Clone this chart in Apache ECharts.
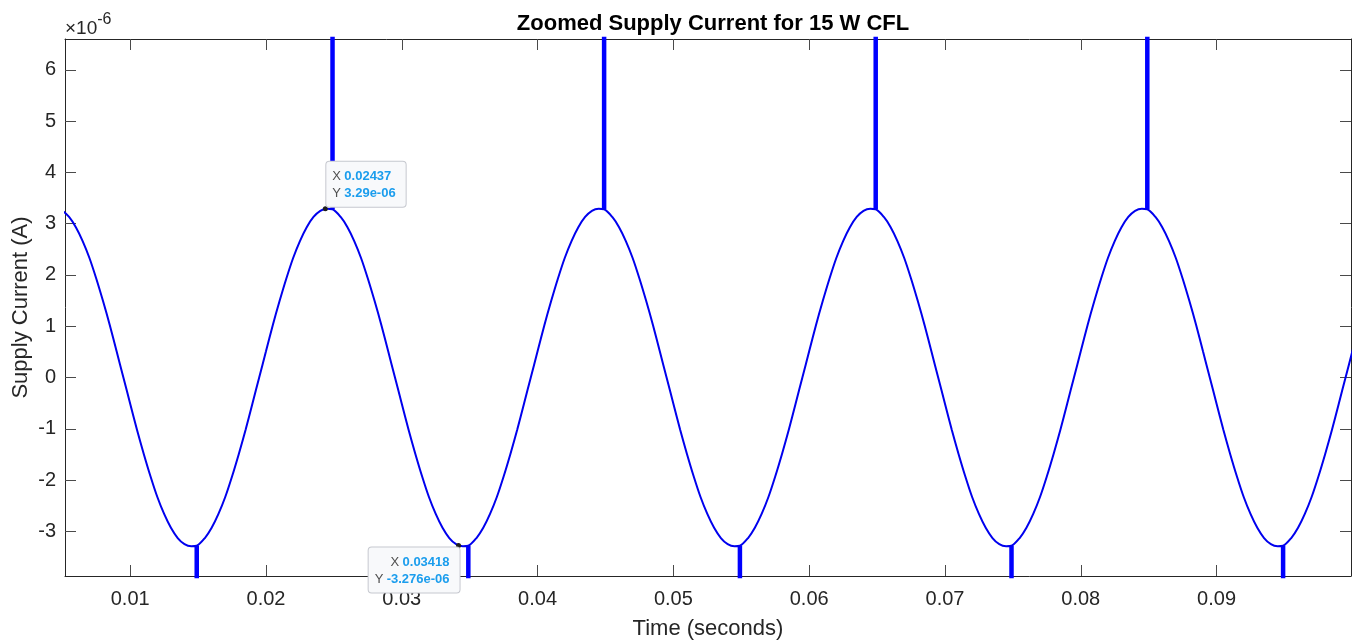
<!DOCTYPE html>
<html>
<head>
<meta charset="utf-8">
<title>Zoomed Supply Current for 15 W CFL</title>
<script src="https://cdn.jsdelivr.net/npm/echarts@6/dist/echarts.min.js"></script>
<style>
  html, body { margin: 0; padding: 0; background: #ffffff; }
  #chart { width: 1357px; height: 641px; }
</style>
</head>
<body>
<div id="chart"></div>
<script>
// Supply current samples: time in seconds, current in units of 1e-6 A.
// One row per half cycle (peak to trough or trough to peak).
const timeS = [
  0.0045, 0.0050, 0.0055, 0.0060, 0.0065, 0.0070, 0.0075, 0.0080, 0.0085, 0.0090, 0.0095, 0.0100, 0.0105, 0.0110, 0.0115, 0.0120, 0.0125, 0.0130, 0.0135, 0.0140,
  0.0145, 0.0149, 0.0155, 0.0160, 0.0165, 0.0170, 0.0175, 0.0180, 0.0185, 0.0190, 0.0195, 0.0200, 0.0205, 0.0210, 0.0215, 0.0220, 0.0225, 0.0230, 0.0235, 0.0240,
  0.0245, 0.0249, 0.0255, 0.0260, 0.0265, 0.0270, 0.0275, 0.0280, 0.0285, 0.0290, 0.0295, 0.0300, 0.0305, 0.0310, 0.0315, 0.0320, 0.0325, 0.0330, 0.0335, 0.0340,
  0.0345, 0.0349, 0.0355, 0.0360, 0.0365, 0.0370, 0.0375, 0.0380, 0.0385, 0.0390, 0.0395, 0.0400, 0.0405, 0.0410, 0.0415, 0.0420, 0.0425, 0.0430, 0.0435, 0.0440,
  0.0445, 0.0449, 0.0455, 0.0460, 0.0465, 0.0470, 0.0475, 0.0480, 0.0485, 0.0490, 0.0495, 0.0500, 0.0505, 0.0510, 0.0515, 0.0520, 0.0525, 0.0530, 0.0535, 0.0540,
  0.0545, 0.0549, 0.0555, 0.0560, 0.0565, 0.0570, 0.0575, 0.0580, 0.0585, 0.0590, 0.0595, 0.0600, 0.0605, 0.0610, 0.0615, 0.0620, 0.0625, 0.0630, 0.0635, 0.0640,
  0.0645, 0.0649, 0.0655, 0.0660, 0.0665, 0.0670, 0.0675, 0.0680, 0.0685, 0.0690, 0.0695, 0.0700, 0.0705, 0.0710, 0.0715, 0.0720, 0.0725, 0.0730, 0.0735, 0.0740,
  0.0745, 0.0749, 0.0755, 0.0760, 0.0765, 0.0770, 0.0775, 0.0780, 0.0785, 0.0790, 0.0795, 0.0800, 0.0805, 0.0810, 0.0815, 0.0820, 0.0825, 0.0830, 0.0835, 0.0840,
  0.0845, 0.0849, 0.0855, 0.0860, 0.0865, 0.0870, 0.0875, 0.0880, 0.0885, 0.0890, 0.0895, 0.0900, 0.0905, 0.0910, 0.0915, 0.0920, 0.0925, 0.0930, 0.0935, 0.0940,
  0.0945, 0.0949, 0.0955, 0.0960, 0.0965, 0.0970, 0.0975, 0.0980, 0.0985, 0.0990, 0.0995, 0.1000, 0.1005, 0.1010
];
const currentE6 = [
  3.29, 3.25, 3.13, 2.93, 2.66, 2.33, 1.93, 1.49, 1.02, 0.51, 0.00, -0.51, -1.02, -1.49, -1.93, -2.33, -2.66, -2.93, -3.13, -3.25,
  -3.29, -3.28, -3.13, -2.93, -2.66, -2.33, -1.93, -1.49, -1.02, -0.51, 0.00, 0.51, 1.02, 1.49, 1.93, 2.33, 2.66, 2.93, 3.13, 3.25,
  3.29, 3.28, 3.13, 2.93, 2.66, 2.33, 1.93, 1.49, 1.02, 0.51, 0.00, -0.51, -1.02, -1.49, -1.93, -2.33, -2.66, -2.93, -3.13, -3.25,
  -3.29, -3.28, -3.13, -2.93, -2.66, -2.33, -1.93, -1.49, -1.02, -0.51, 0.00, 0.51, 1.02, 1.49, 1.93, 2.33, 2.66, 2.93, 3.13, 3.25,
  3.29, 3.28, 3.13, 2.93, 2.66, 2.33, 1.93, 1.49, 1.02, 0.51, 0.00, -0.51, -1.02, -1.49, -1.93, -2.33, -2.66, -2.93, -3.13, -3.25,
  -3.29, -3.28, -3.13, -2.93, -2.66, -2.33, -1.93, -1.49, -1.02, -0.51, 0.00, 0.51, 1.02, 1.49, 1.93, 2.33, 2.66, 2.93, 3.13, 3.25,
  3.29, 3.28, 3.13, 2.93, 2.66, 2.33, 1.93, 1.49, 1.02, 0.51, 0.00, -0.51, -1.02, -1.49, -1.93, -2.33, -2.66, -2.93, -3.13, -3.25,
  -3.29, -3.28, -3.13, -2.93, -2.66, -2.33, -1.93, -1.49, -1.02, -0.51, 0.00, 0.51, 1.02, 1.49, 1.93, 2.33, 2.66, 2.93, 3.13, 3.25,
  3.29, 3.28, 3.13, 2.93, 2.66, 2.33, 1.93, 1.49, 1.02, 0.51, 0.00, -0.51, -1.02, -1.49, -1.93, -2.33, -2.66, -2.93, -3.13, -3.25,
  -3.29, -3.28, -3.13, -2.93, -2.66, -2.33, -1.93, -1.49, -1.02, -0.51, 0.00, 0.51, 1.02, 1.49
];

// Charging pulses: they start on the waveform and run far off-scale
const spikeTimes = [0.0149, 0.0249, 0.0349, 0.0449, 0.0549, 0.0649, 0.0749, 0.0849, 0.0949];
const spikeBase  = [-3.28, 3.28, -3.28, 3.28, -3.28, 3.28, -3.28, 3.28, -3.28];
const spikeTip   = [-40, 40, -40, 40, -40, 40, -40, 40, -40];

// Data tips
const tipX = [0.02437, 0.03418];
const tipY = [3.29, -3.276];
const tipYText = ['3.29e-06', '-3.276e-06'];

// Axis limits and tick labels
const xMin = 0.0052, xMax = 0.0999;
const yMin = -3.87, yMax = 6.6;
const xTicks = [0.01, 0.02, 0.03, 0.04, 0.05, 0.06, 0.07, 0.08, 0.09];
const yTicks = [-3, -2, -1, 0, 1, 2, 3, 4, 5, 6];

const FONT = "'Liberation Sans', Arial, Helvetica, sans-serif";
const AXIS_COLOR = '#262626';
const TICK_COLOR = '#4a4a4a';

const n = Math.min(timeS.length, currentE6.length);
const curveData = timeS.slice(0, n).map((t, i) => [t, currentE6[i]]);
const spikeData = [];
spikeTimes.forEach((t, i) => {
  spikeData.push([t, spikeBase[i]], [t, spikeTip[i]], [t, '-']);
});

function tipLabel(i, align, verticalAlign, pos) {
  return {
    show: true,
    position: pos,
    align: align,
    verticalAlign: verticalAlign,
    formatter: '{k|X} {v|' + tipX[i] + '}\n{k|Y} {v|' + tipYText[i] + '}',
    backgroundColor: '#f8f9fb',
    borderColor: '#c6c8cf',
    borderWidth: 1,
    borderRadius: 3,
    padding: [6, 10, 5, 6],
    rich: {
      k: { fontFamily: FONT, fontSize: 13, color: '#505050', lineHeight: 17 },
      v: { fontFamily: FONT, fontSize: 13, color: '#1b9ded', fontWeight: 'bold', lineHeight: 17 }
    }
  };
}

const chart = echarts.init(document.getElementById('chart'), null, { renderer: 'canvas' });

const option = {
  animation: false,
  backgroundColor: '#ffffff',
  title: {
    text: 'Zoomed Supply Current for 15 W CFL',
    left: 708,
    textAlign: 'center',
    top: 8,
    textStyle: { fontFamily: FONT, fontSize: 22, fontWeight: 'bold', color: '#000000' }
  },
  graphic: [{
    type: 'text',
    left: 65,
    top: 12,
    style: {
      text: '{a|×10}{b|-6}',
      rich: {
        a: { fontFamily: FONT, fontSize: 19, fill: AXIS_COLOR, verticalAlign: 'bottom', padding: [7, 0, 0, 0] },
        b: { fontFamily: FONT, fontSize: 16, fill: AXIS_COLOR, verticalAlign: 'top' }
      }
    }
  }],
  grid: { left: 65, right: 6, top: 39, bottom: 65, containLabel: false, outerBoundsMode: 'none' },
  xAxis: [{
    type: 'value',
    position: 'bottom',
    min: xMin, max: xMax,
    name: 'Time (seconds)',
    nameLocation: 'middle',
    nameGap: 42,
    nameTextStyle: { fontFamily: FONT, fontSize: 22, color: AXIS_COLOR },
    axisLine: { show: true, onZero: false, lineStyle: { color: AXIS_COLOR, width: 1 } },
    axisTick: { show: true, inside: true, length: 11, customValues: xTicks, lineStyle: { color: TICK_COLOR } },
    axisLabel: { show: true, margin: 13, customValues: xTicks, fontFamily: FONT, fontSize: 20, color: AXIS_COLOR,
                 formatter: v => String(+v.toFixed(4)) },
    splitLine: { show: false }
  }, {
    type: 'value',
    position: 'top',
    min: xMin, max: xMax,
    axisLine: { show: true, onZero: false, lineStyle: { color: AXIS_COLOR, width: 1 } },
    axisTick: { show: true, inside: true, length: 11, customValues: xTicks, lineStyle: { color: TICK_COLOR } },
    axisLabel: { show: false },
    splitLine: { show: false }
  }],
  yAxis: [{
    type: 'value',
    position: 'left',
    min: yMin, max: yMax,
    name: 'Supply Current (A)',
    nameLocation: 'middle',
    nameGap: 33,
    nameMoveOverlap: false,
    nameTextStyle: { fontFamily: FONT, fontSize: 22, color: AXIS_COLOR },
    axisLine: { show: true, onZero: false, lineStyle: { color: AXIS_COLOR, width: 1 } },
    axisTick: { show: true, inside: true, length: 11, customValues: yTicks, lineStyle: { color: TICK_COLOR } },
    axisLabel: { show: true, margin: 9, customValues: yTicks, fontFamily: FONT, fontSize: 20, color: AXIS_COLOR },
    splitLine: { show: false }
  }, {
    type: 'value',
    position: 'right',
    min: yMin, max: yMax,
    axisLine: { show: true, onZero: false, lineStyle: { color: AXIS_COLOR, width: 1 } },
    axisTick: { show: true, inside: true, length: 11, customValues: yTicks, lineStyle: { color: TICK_COLOR } },
    axisLabel: { show: false },
    splitLine: { show: false }
  }],
  series: [{
    name: 'spikes',
    type: 'line',
    xAxisIndex: 0, yAxisIndex: 0,
    data: spikeData,
    showSymbol: false,
    connectNulls: false,
    clip: true,
    lineStyle: { color: '#0000ff', width: 4.5 },
    z: 2
  }, {
    name: 'current',
    type: 'line',
    xAxisIndex: 0, yAxisIndex: 0,
    data: curveData,
    smooth: 0.3,
    showSymbol: false,
    clip: true,
    lineStyle: { color: '#0000ee', width: 2 },
    z: 3,
    markPoint: {
      symbol: 'circle',
      symbolSize: 5,
      itemStyle: { color: '#1e1e1e', borderColor: '#1e1e1e', borderWidth: 0 },
      data: [
        { coord: [tipX[0], tipY[0]], label: tipLabel(0, 'left', 'bottom', [3.5, 0.5]) },
        { coord: [tipX[1], tipY[1]], label: tipLabel(1, 'right', 'top', [3.5, 4.5]) }
      ]
    }
  }]
};

chart.setOption(option);
</script>
</body>
</html>
